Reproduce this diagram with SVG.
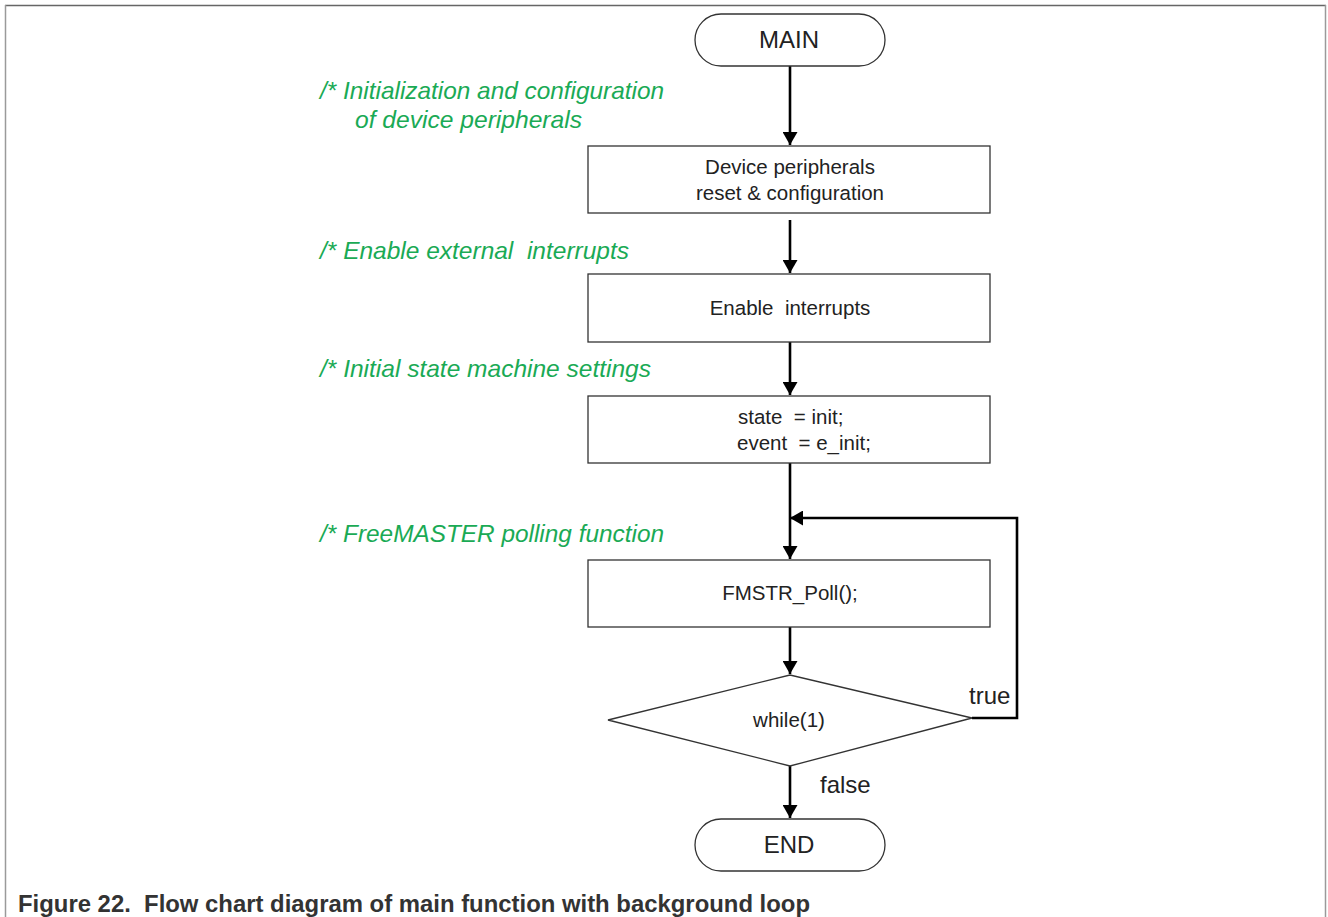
<svg xmlns="http://www.w3.org/2000/svg" width="1328" height="917" viewBox="0 0 1328 917" xml:space="preserve">
  <style>
    .shape { fill: #ffffff; stroke: #333333; stroke-width: 1.3; }
    .wire { fill: none; stroke: #000000; stroke-width: 2.6; }
    .lbl { font-family: "Liberation Sans", Arial, sans-serif; font-size: 20.5px; fill: #222222; text-anchor: middle; white-space: pre; }
    .lbl.left { text-anchor: start; }
    .term { font-family: "Liberation Sans", Arial, sans-serif; font-size: 24px; fill: #222222; text-anchor: middle; }
    .note { font-family: "Liberation Sans", Arial, sans-serif; font-size: 24px; font-style: italic; fill: #1aaa55; white-space: pre; }
    .branch { font-family: "Liberation Sans", Arial, sans-serif; font-size: 24px; fill: #222222; }
    .caption { font-family: "Liberation Sans", Arial, sans-serif; font-size: 23px; font-weight: bold; fill: #333333; white-space: pre; }
  </style>
  <defs>
    <marker id="arrow" viewBox="0 0 13 15" refX="13" refY="7.5" markerWidth="13" markerHeight="15" markerUnits="userSpaceOnUse" orient="auto">
      <path d="M0,0 L13,7.5 L0,15 Z" fill="#000000"/>
    </marker>
  </defs>

  <rect width="1328" height="917" fill="#ffffff"/>

  <!-- figure frame -->
  <g id="frame">
    <line x1="5" y1="5.5" x2="1326" y2="5.5" stroke="#666666" stroke-width="1.5"/>
    <line x1="5.5" y1="5" x2="5.5" y2="917" stroke="#9a9a9a" stroke-width="1.5"/>
    <line x1="1325.5" y1="5" x2="1325.5" y2="917" stroke="#9a9a9a" stroke-width="1.5"/>
  </g>

  <!-- comments -->
  <g id="notes">
    <text class="note" x="320" y="99" textLength="344" lengthAdjust="spacingAndGlyphs">/* Initialization and configuration</text>
    <text class="note" x="355" y="128" textLength="227" lengthAdjust="spacingAndGlyphs">of device peripherals</text>
    <text class="note" x="320" y="259" textLength="309" lengthAdjust="spacingAndGlyphs">/* Enable external  interrupts</text>
    <text class="note" x="320" y="377" textLength="331" lengthAdjust="spacingAndGlyphs">/* Initial state machine settings</text>
    <text class="note" x="320" y="542" textLength="344" lengthAdjust="spacingAndGlyphs">/* FreeMASTER polling function</text>
  </g>

  <!-- connectors -->
  <g id="connectors">
    <line class="wire" x1="790" y1="66" x2="790" y2="145" marker-end="url(#arrow)"/>
    <line class="wire" x1="790" y1="220" x2="790" y2="273" marker-end="url(#arrow)"/>
    <line class="wire" x1="790" y1="342" x2="790" y2="395" marker-end="url(#arrow)"/>
    <line class="wire" x1="790" y1="463" x2="790" y2="559" marker-end="url(#arrow)"/>
    <polyline class="wire" points="972,718 1017,718 1017,518 790,518" marker-end="url(#arrow)"/>
    <line class="wire" x1="790" y1="627" x2="790" y2="674" marker-end="url(#arrow)"/>
    <line class="wire" x1="790" y1="766" x2="790" y2="818" marker-end="url(#arrow)"/>
    <text class="branch" x="969" y="704">true</text>
    <text class="branch" x="820" y="793">false</text>
  </g>

  <g id="main">
    <rect class="shape" x="695" y="14" width="190" height="52" rx="26" ry="26"/>
    <text class="term" x="789" y="48">MAIN</text>
  </g>

  <g id="peripherals">
    <rect class="shape" x="588" y="146" width="402" height="67"/>
    <text class="lbl" x="790" y="174">Device peripherals</text>
    <text class="lbl" x="790" y="200">reset &amp; configuration</text>
  </g>

  <g id="interrupts">
    <rect class="shape" x="588" y="274" width="402" height="68"/>
    <text class="lbl" x="790" y="315">Enable  interrupts</text>
  </g>

  <g id="state-init">
    <rect class="shape" x="588" y="396" width="402" height="67"/>
    <text class="lbl left" x="738" y="424">state  = init;</text>
    <text class="lbl left" x="737" y="450">event  = e_init;</text>
  </g>

  <g id="poll">
    <rect class="shape" x="588" y="560" width="402" height="67"/>
    <text class="lbl" x="790" y="600">FMSTR_Poll();</text>
  </g>

  <g id="loop">
    <polygon class="shape" points="608,720 790,675 972,718 790,766"/>
    <text class="lbl" x="789" y="727">while(1)</text>
  </g>

  <g id="end">
    <rect class="shape" x="695" y="819" width="190" height="52" rx="26" ry="26"/>
    <text class="term" x="789" y="853">END</text>
  </g>

  <text class="caption" x="18" y="912" textLength="792" lengthAdjust="spacingAndGlyphs">Figure 22.  Flow chart diagram of main function with background loop</text>
</svg>
